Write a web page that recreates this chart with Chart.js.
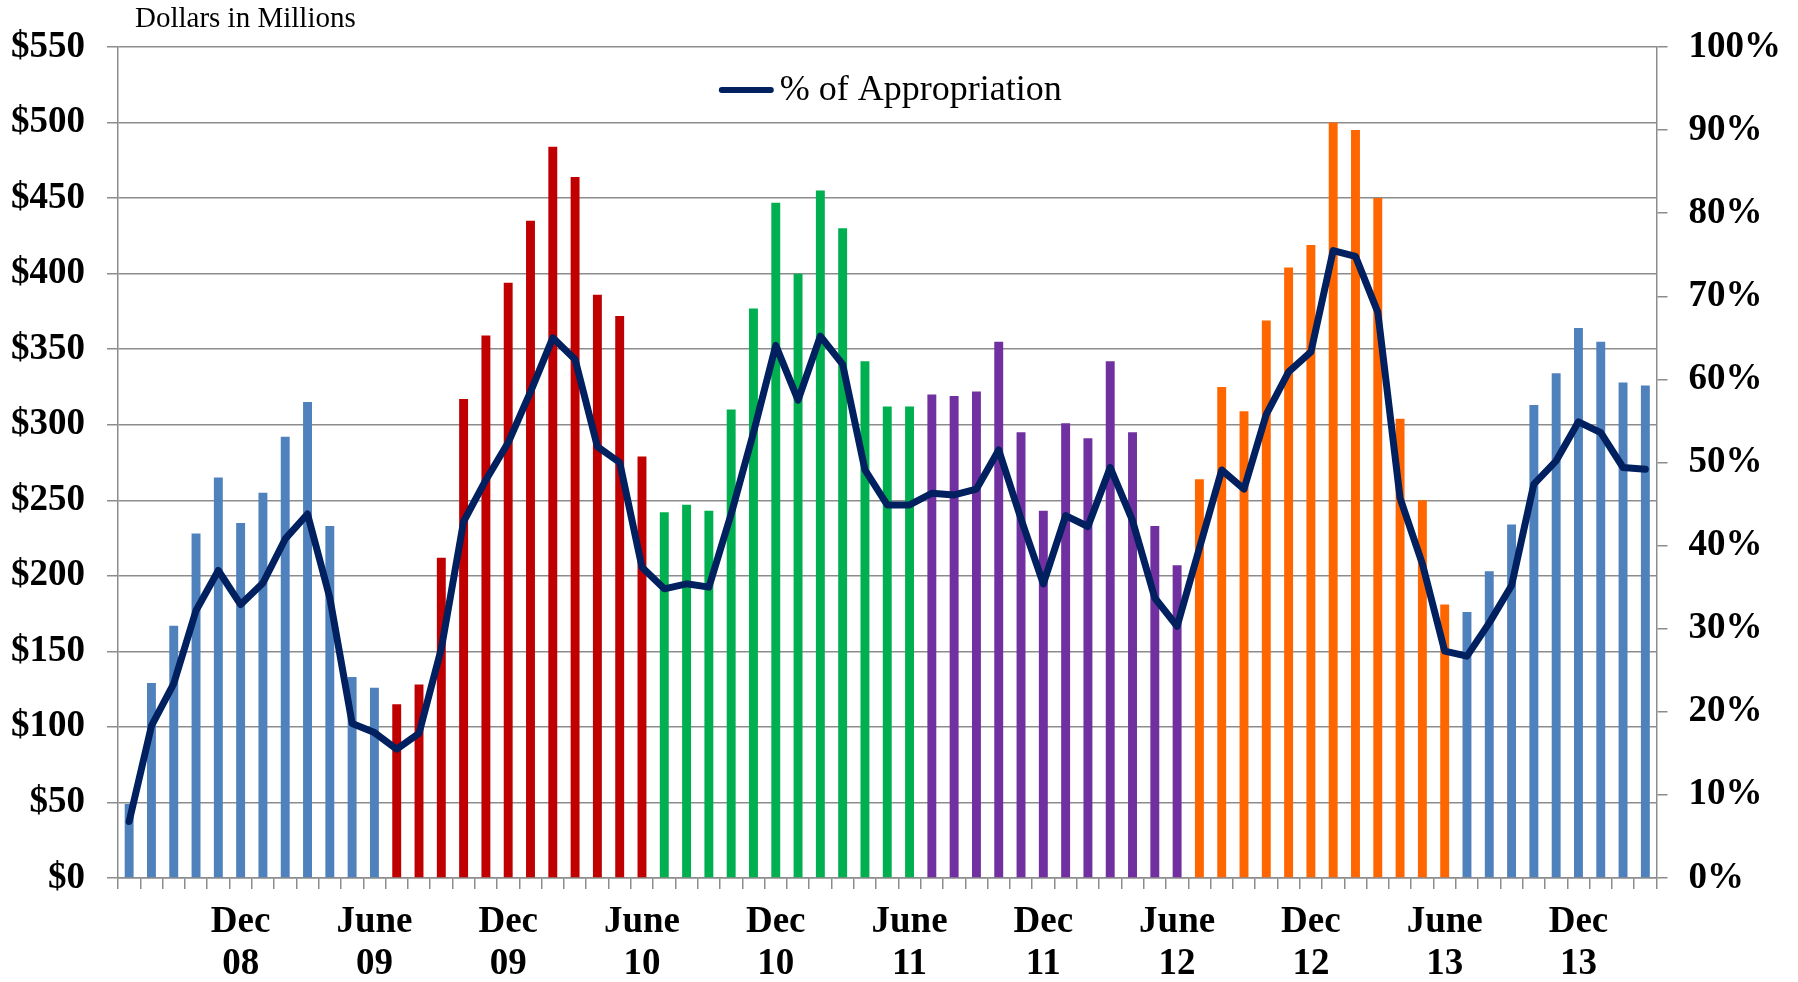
<!DOCTYPE html>
<html>
<head>
<meta charset="utf-8">
<script src="https://cdn.jsdelivr.net/npm/chart.js@4.4.1/dist/chart.umd.min.js"></script>
<style>
  html, body { margin: 0; padding: 0; background: #ffffff; }
  #wrap { width: 1798px; height: 982px; position: relative; }
</style>
</head>
<body>
<div id="wrap"><canvas id="c" width="1798" height="982"></canvas></div>
<script>
// Months from Jul 2008 to Mar 2014
const categories = [
  'Jul 08','Aug 08','Sep 08','Oct 08','Nov 08','Dec 08','Jan 09','Feb 09','Mar 09','Apr 09','May 09','Jun 09',
  'Jul 09','Aug 09','Sep 09','Oct 09','Nov 09','Dec 09','Jan 10','Feb 10','Mar 10','Apr 10','May 10','Jun 10',
  'Jul 10','Aug 10','Sep 10','Oct 10','Nov 10','Dec 10','Jan 11','Feb 11','Mar 11','Apr 11','May 11','Jun 11',
  'Jul 11','Aug 11','Sep 11','Oct 11','Nov 11','Dec 11','Jan 12','Feb 12','Mar 12','Apr 12','May 12','Jun 12',
  'Jul 12','Aug 12','Sep 12','Oct 12','Nov 12','Dec 12','Jan 13','Feb 13','Mar 13','Apr 13','May 13','Jun 13',
  'Jul 13','Aug 13','Sep 13','Oct 13','Nov 13','Dec 13','Jan 14','Feb 14','Mar 14'
];

// Dollars in millions (bars)
const dollars = [
  49, 129, 167, 228, 265, 235, 255, 292, 315, 233, 133, 126,
  115, 128, 212, 317, 359, 394, 435, 484, 464, 386, 372, 279,
  242, 247, 243, 310, 377, 447, 400, 455, 430, 342, 312, 312,
  320, 319, 322, 355, 295, 243, 301, 291, 342, 295, 233, 207,
  264, 325, 309, 369, 404, 419, 500, 495, 450, 304, 250, 181,
  176, 203, 234, 313, 334, 364, 355, 328, 326
];

// % of appropriation (line)
const pctAppropriation = [
  6.8, 18.3, 23.4, 32.2, 37.0, 32.9, 35.5, 40.8, 43.8, 33.7, 18.6, 17.5,
  15.5, 17.4, 27.6, 42.9, 47.9, 52.4, 58.5, 65.0, 62.4, 51.9, 50.0, 37.4,
  34.8, 35.4, 35.0, 43.8, 53.6, 64.1, 57.5, 65.2, 61.8, 49.1, 44.9, 44.9,
  46.3, 46.1, 46.8, 51.5, 43.2, 35.4, 43.6, 42.3, 49.4, 43.0, 33.7, 30.3,
  39.7, 49.1, 46.8, 55.8, 60.9, 63.3, 75.5, 74.8, 68.1, 45.7, 37.8, 27.3,
  26.7, 30.7, 35.2, 47.4, 50.2, 54.9, 53.6, 49.4, 49.2
];

// Shown tick labels (month abbreviation in category -> displayed word)
const tickMonthNames = { 'Dec': 'Dec', 'Jun': 'June' };

// Fiscal-year (July–June) bar colours
const fiscalYearColors = ['#4F81BD', '#C00000', '#00B050', '#7030A0', '#FF6600', '#4F81BD'];

const lineLabel = '% of Appropriation';
const axisTitle = 'Dollars in Millions';

const FONT = "'Liberation Serif', 'Times New Roman', serif";
const GRID = '#8c8c8c';
const TICK_FONT = { family: FONT, size: 37, weight: 'bold' };

const barColors = categories.map((c, i) => fiscalYearColors[Math.floor(i / 12)]);

// Chart.js reserves tick padding on both sides of the labels; keep only the inner one
const trimOuterPadding = s => { s.width -= s.options.ticks.padding; };
const trimOuterPaddingX = s => { s.height -= s.options.ticks.padding + 3; };

const overlayText = {
  id: 'overlayText',
  afterDraw(chart) {
    const ctx = chart.ctx;
    const a = chart.chartArea;
    ctx.save();
    // axis caption
    ctx.font = '29px ' + FONT;
    ctx.fillStyle = '#000';
    ctx.textBaseline = 'alphabetic';
    ctx.textAlign = 'left';
    ctx.fillText(axisTitle, a.left + 17, 27);
    // legend
    const ds = chart.data.datasets[1];
    ctx.font = '36px ' + FONT;
    const tw = ctx.measureText(ds.label).width;
    const lineLen = 55, gap = 6;
    const total = lineLen + gap + tw;
    const cx = (a.left + a.right) / 2 + 3;
    const x0 = cx - total / 2;
    const y = a.top + 43;
    ctx.strokeStyle = ds.borderColor;
    ctx.lineWidth = 6;
    ctx.lineCap = 'round';
    ctx.beginPath();
    ctx.moveTo(x0 + 3, y);
    ctx.lineTo(x0 + lineLen - 3, y);
    ctx.stroke();
    ctx.fillStyle = '#000';
    ctx.textBaseline = 'middle';
    ctx.fillText(ds.label, x0 + lineLen + gap, y + 1);
    ctx.restore();
  }
};

new Chart(document.getElementById('c'), {
  type: 'bar',
  data: {
    labels: categories,
    datasets: [
      {
        type: 'bar',
        label: 'Dollars in Millions',
        data: dollars,
        backgroundColor: barColors,
        borderWidth: 0,
        barPercentage: 0.4,
        categoryPercentage: 1.0,
        yAxisID: 'y',
        order: 2
      },
      {
        type: 'line',
        label: lineLabel,
        data: pctAppropriation,
        borderColor: '#002060',
        backgroundColor: '#002060',
        borderWidth: 7,
        pointRadius: 0,
        tension: 0,
        borderJoinStyle: 'round',
        borderCapStyle: 'round',
        yAxisID: 'y1',
        order: 1
      }
    ]
  },
  options: {
    responsive: false,
    animation: false,
    devicePixelRatio: 1,
    layout: { padding: { left: 11, right: 17, top: 47, bottom: 0 } },
    plugins: {
      legend: { display: false },
      tooltip: { enabled: false },
      title: { display: false }
    },
    scales: {
      x: {
        type: 'category',
        offset: true,
        afterFit: trimOuterPaddingX,
        grid: {
          offset: true,
          drawOnChartArea: false,
          drawTicks: true,
          tickLength: 11,
          color: GRID,
          lineWidth: 1.5
        },
        border: { color: GRID, width: 1.5 },
        ticks: {
          autoSkip: false,
          maxRotation: 0,
          minRotation: 0,
          padding: 12,
          color: '#000',
          font: Object.assign({}, TICK_FONT, { lineHeight: 1.135 }),
          callback: function (value, index) {
            const lab = categories[index];
            const parts = lab.split(' ');
            const name = tickMonthNames[parts[0]];
            return name ? [name, parts[1]] : '';
          }
        }
      },
      y: {
        position: 'left',
        min: 0,
        max: 550,
        afterFit: trimOuterPadding,
        ticks: {
          stepSize: 50,
          padding: 22,
          color: '#000',
          font: TICK_FONT,
          callback: v => '$' + v
        },
        grid: {
          color: GRID,
          lineWidth: 1.5,
          tickLength: 11,
          drawTicks: true
        },
        border: { color: GRID, width: 1.5 }
      },
      y1: {
        position: 'right',
        min: 0,
        max: 100,
        afterFit: trimOuterPadding,
        ticks: {
          stepSize: 10,
          padding: 21,
          color: '#000',
          font: TICK_FONT,
          callback: v => v + '%'
        },
        grid: {
          drawOnChartArea: false,
          color: GRID,
          lineWidth: 1.5,
          tickLength: 11
        },
        border: { color: GRID, width: 1.5 }
      }
    }
  },
  plugins: [overlayText]
});
</script>
</body>
</html>
